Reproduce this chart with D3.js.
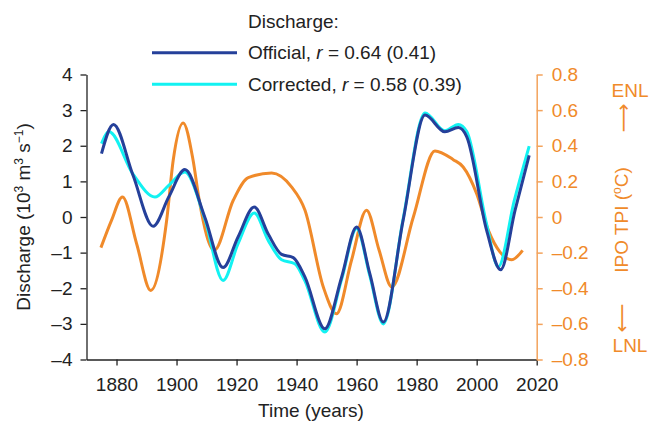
<!DOCTYPE html>
<html>
<head>
    <script src="https://d3js.org/d3.v7.min.js"></script>
    <style>
        body { margin: 0; background: #fff; }
        text { font-family: "Liberation Sans", Arial, sans-serif; }
    </style>
</head>
<body>
    <div id="chart"></div>
    <script>
        // discharge series (10^3 m^3 s^-1)
        var qYears = [1875, 1879, 1885.5, 1892.2, 1897.4, 1902.8, 1909.4, 1915.5, 1920.5, 1925.9,
                      1930.5, 1935, 1938.9, 1942.8, 1949.4, 1955, 1960, 1964.4, 1968.9, 1975.5,
                      1982.8, 1989.4, 1993.9, 1996.7, 2003.3, 2008, 2012.8, 2017.5];
        var official = [1.78, 2.60, 1.17, -0.26, 0.56, 1.33, 0.00, -1.42, -0.56, 0.28,
                        -0.47, -1.05, -1.14, -1.69, -3.14, -1.69, -0.28, -1.59, -2.95, -0.09,
                        2.86, 2.39, 2.51, 2.25, -0.37, -1.48, 0.19, 1.73];
        var cYears = [1875, 1877.5, 1885.5, 1892.8, 1897.4, 1902.8, 1909.4, 1915.5, 1920.5, 1925.9,
                      1930.5, 1935, 1939.4, 1942.8, 1949.4, 1955, 1960, 1964.4, 1968.9, 1975.5,
                      1982.8, 1989.4, 1993.9, 1996.7, 2003.3, 2007.2, 2012.5, 2017.5];
        var corrected = [2.06, 2.39, 1.20, 0.56, 0.89, 1.26, -0.05, -1.78, -0.75, 0.11,
                         -0.65, -1.20, -1.31, -1.80, -3.23, -1.75, -0.32, -1.65, -3.00, -0.05,
                         2.92, 2.42, 2.60, 2.40, -0.20, -1.40, 0.45, 1.99];

        // IPO tripole index (deg C)
        var ipoYears = [1874.8, 1878.3, 1882, 1886.7, 1891.4, 1896.7, 1898.9, 1902.2, 1905.5, 1907.5,
                        1912.6, 1918.9, 1923.9, 1931.7, 1938.3, 1942.8, 1948.9, 1953.3, 1958.3, 1963.3,
                        1967.5, 1971.7, 1978.9, 1986.1, 1992.2, 1995.5, 2000, 2003.9, 2007.8, 2011.7, 2015.3];
        var ipo = [-0.172, -0.02, 0.112, -0.15, -0.412, -0.02, 0.32, 0.528, 0.32, 0.10,
                   -0.187, 0.094, 0.221, 0.247, 0.169, 0.038, -0.393, -0.543, -0.243, 0.038,
                   -0.187, -0.393, 0.0, 0.371, 0.322, 0.281, 0.131, -0.075, -0.197, -0.24, -0.187];

        var xTicks = [1880, 1900, 1920, 1940, 1960, 1980, 2000, 2020];
        var qTicks = [-4, -3, -2, -1, 0, 1, 2, 3, 4];
        var ipoTicks = [-0.8, -0.6, -0.4, -0.2, 0, 0.2, 0.4, 0.6, 0.8];

        var blue = "#25409a", cyan = "#12f2f2", orange = "#f08a2a", orangeAxis = "#f3a35c";
        var fs = "19px";

        var svg = d3.select("#chart").append("svg")
            .attr("width", 650)
            .attr("height", 424);

        var x = d3.scaleLinear().domain([1870, 2020]).range([86.5, 536.7]);
        var yQ = d3.scaleLinear().domain([-4, 4]).range([359.5, 74.5]);
        var yI = d3.scaleLinear().domain([-0.8, 0.8]).range([359.5, 74.5]);

        function fmt(v) {
            var s = (Math.round(v * 10) / 10).toString();
            return v < 0 ? "\u2013" + s.slice(1) : s;
        }

        // left axis
        var gl = svg.append("g")
            .attr("transform", "translate(86.5,0)")
            .call(d3.axisLeft(yQ).tickValues(qTicks).tickSize(6).tickSizeOuter(0).tickPadding(8).tickFormat(fmt));
        gl.selectAll("text").style("font-size", fs).attr("fill", "#222");
        gl.selectAll("line,path").attr("stroke", "#222").attr("stroke-width", 1.3);

        // bottom axis
        var gb = svg.append("g")
            .attr("transform", "translate(0,359.5)")
            .call(d3.axisBottom(x).tickValues(xTicks).tickSize(6).tickSizeOuter(0).tickPadding(12).tickFormat(d3.format("d")));
        gb.selectAll("text").style("font-size", fs).attr("fill", "#222");
        gb.selectAll("line,path").attr("stroke", "#222").attr("stroke-width", 1.3);

        // right axis
        var gr = svg.append("g")
            .attr("transform", "translate(536.7,0)")
            .call(d3.axisRight(yI).tickValues(ipoTicks).tickSize(6).tickSizeOuter(0).tickPadding(9)
                .tickFormat(function (d) { return d === 0 ? "0" : fmt(d); }));
        gr.selectAll("text").style("font-size", fs).attr("fill", orange);
        gr.selectAll("line,path").attr("stroke", orangeAxis).attr("stroke-width", 1.5);

        // lines
        function draw(xs, vs, scale, color) {
            var pts = xs.map(function (d, i) { return [d, vs[i]]; });
            svg.append("path")
                .datum(pts)
                .attr("fill", "none")
                .attr("stroke", color)
                .attr("stroke-width", 3)
                .attr("d", d3.line()
                    .x(function (d) { return x(d[0]); })
                    .y(function (d) { return scale(d[1]); })
                    .curve(d3.curveMonotoneX));
        }
        draw(ipoYears, ipo, yI, orange);
        draw(cYears, corrected, yQ, cyan);
        draw(qYears, official, yQ, blue);

        // axis titles
        svg.append("text")
            .attr("x", 311).attr("y", 417)
            .attr("text-anchor", "middle")
            .style("font-size", fs).attr("fill", "#222")
            .text("Time (years)");

        var yt = svg.append("text")
            .attr("transform", "translate(30,217) rotate(-90)")
            .attr("text-anchor", "middle")
            .style("font-size", fs).attr("fill", "#222");
        yt.append("tspan").text("Discharge (10");
        yt.append("tspan").attr("dy", -7).style("font-size", "12px").text("3");
        yt.append("tspan").attr("dy", 7).text(" m");
        yt.append("tspan").attr("dy", -7).style("font-size", "12px").text("3");
        yt.append("tspan").attr("dy", 7).text(" s");
        yt.append("tspan").attr("dy", -7).style("font-size", "12px").text("\u22121");
        yt.append("tspan").attr("dy", 7).text(")");

        var it = svg.append("text")
            .attr("transform", "translate(628,220) rotate(-90)")
            .attr("text-anchor", "middle")
            .style("font-size", fs).attr("fill", orange);
        it.append("tspan").text("IPO TPI (");
        it.append("tspan").attr("dy", -7).style("font-size", "12px").text("o");
        it.append("tspan").attr("dy", 7).text("C)");

        svg.append("text").attr("x", 630).attr("y", 97).attr("text-anchor", "middle")
            .style("font-size", fs).attr("fill", orange).text("ENL");
        // long thin arrows, written as rotated glyphs
        svg.append("text").attr("transform", "translate(623,118) rotate(-90)")
            .attr("text-anchor", "middle").attr("dy", "0.35em")
            .style("font-family", "DejaVu Sans").style("font-size", "20px").attr("fill", orange).text("\u27F6");
        svg.append("text").attr("transform", "translate(623,318) rotate(90)")
            .attr("text-anchor", "middle").attr("dy", "0.35em")
            .style("font-family", "DejaVu Sans").style("font-size", "20px").attr("fill", orange).text("\u27F6");
        svg.append("text").attr("x", 630).attr("y", 352).attr("text-anchor", "middle")
            .style("font-size", fs).attr("fill", orange).text("LNL");

        // legend
        svg.append("text").attr("x", 248).attr("y", 28)
            .style("font-size", fs).attr("fill", "#222").text("Discharge:");
        var legend = [
            { name: "Official", r: "0.64", p: "0.41", color: blue, y: 52.7 },
            { name: "Corrected", r: "0.58", p: "0.39", color: cyan, y: 84.3 }
        ];
        legend.forEach(function (d) {
            svg.append("line")
                .attr("x1", 152).attr("x2", 237)
                .attr("y1", d.y).attr("y2", d.y)
                .attr("stroke", d.color).attr("stroke-width", 3);
            var t = svg.append("text").attr("x", 248).attr("y", d.y + 6.5)
                .style("font-size", fs).attr("fill", "#222");
            t.append("tspan").text(d.name + ", ");
            t.append("tspan").style("font-style", "italic").text("r");
            t.append("tspan").text(" = " + d.r + " (" + d.p + ")");
        });
    </script>
</body>
</html>
